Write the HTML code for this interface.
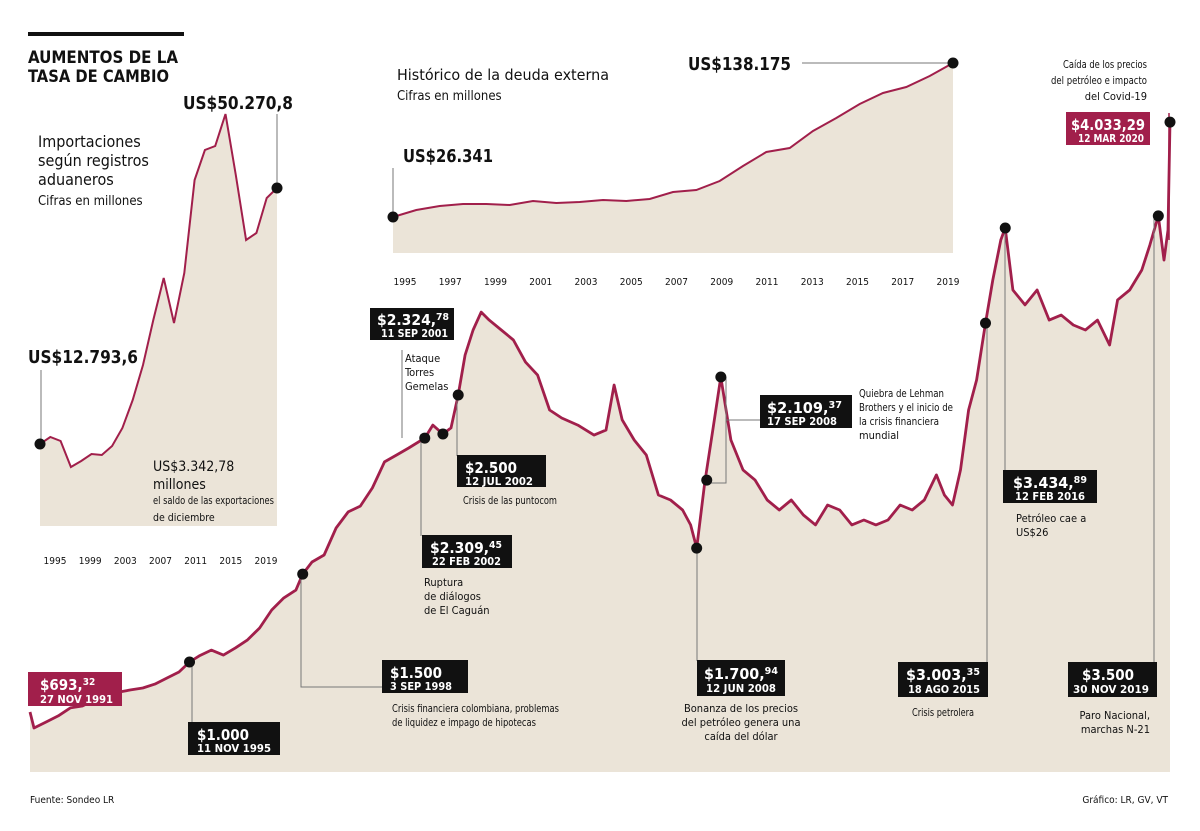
<!DOCTYPE html>
<html><head><meta charset="utf-8"><style>
html,body{margin:0;padding:0;background:#fff}
svg{display:block}
text{font-family:"DejaVu Sans Condensed","Liberation Sans",sans-serif;fill:#111}
.b{font-weight:bold}
.w{fill:#fff}
.lead{stroke:#777;stroke-width:1;fill:none}
</style></head><body>
<svg id="chart" width="1200" height="831" viewBox="0 0 1200 831">
<g id="main-layer"></g>
<g id="imp-layer"></g>
<g id="debt-layer"></g>

<rect x="28" y="32" width="156" height="4" fill="#111"/>
<text x="28" y="63" font-size="17" class="b" textLength="150" lengthAdjust="spacingAndGlyphs">AUMENTOS DE LA</text>
<text x="28" y="82" font-size="17" class="b" textLength="141" lengthAdjust="spacingAndGlyphs">TASA DE CAMBIO</text>

<text x="183" y="109" font-size="18" class="b" textLength="110" lengthAdjust="spacingAndGlyphs">US$50.270,8</text>
<line x1="277" y1="114" x2="277" y2="188" class="lead"/>
<text x="38" y="147" font-size="16">Importaciones</text>
<text x="38" y="166" font-size="16">según registros</text>
<text x="38" y="185" font-size="16">aduaneros</text>
<text x="38" y="205" font-size="13">Cifras en millones</text>
<text x="28" y="363" font-size="18" class="b" textLength="110" lengthAdjust="spacingAndGlyphs">US$12.793,6</text>
<line x1="41" y1="370" x2="41" y2="444" class="lead"/>
<text x="153" y="471" font-size="14">US$3.342,78</text>
<text x="153" y="489" font-size="14">millones</text>
<text x="153" y="504" font-size="10.5" textLength="121" lengthAdjust="spacingAndGlyphs">el saldo de las exportaciones</text>
<text x="153" y="521" font-size="10.5">de diciembre</text>

<text x="397" y="80" font-size="15" textLength="212" lengthAdjust="spacingAndGlyphs">Histórico de la deuda externa</text>
<text x="397" y="100" font-size="13">Cifras en millones</text>
<text x="403" y="162" font-size="18" class="b" textLength="90" lengthAdjust="spacingAndGlyphs">US$26.341</text>
<line x1="393" y1="168" x2="393" y2="217" class="lead"/>
<text x="688" y="70" font-size="18" class="b" textLength="103" lengthAdjust="spacingAndGlyphs">US$138.175</text>
<line x1="802" y1="63" x2="953" y2="63" class="lead"/>

<g>
<rect x="28" y="672" width="94" height="34" fill="#a11f4b"/>
<text x="40" y="690" font-size="15" class="b w">$693,<tspan font-size="10" dy="-5">32</tspan></text>
<text x="40" y="703" font-size="11" class="b w" textLength="73" lengthAdjust="spacingAndGlyphs">27 NOV 1991</text></g>
<g>
<line x1="192" y1="662" x2="192" y2="722" class="lead"/>
<rect x="188" y="722" width="92" height="33" fill="#111"/>
<text x="197" y="740" font-size="15" class="b w">$1.000</text>
<text x="197" y="752" font-size="11" class="b w" textLength="74" lengthAdjust="spacingAndGlyphs">11 NOV 1995</text></g>
<g>
<polyline points="301,574 301,687 382,687" class="lead"/>
<rect x="382" y="660" width="86" height="33" fill="#111"/>
<text x="390" y="678" font-size="15" class="b w">$1.500</text>
<text x="390" y="690" font-size="11" class="b w" textLength="62" lengthAdjust="spacingAndGlyphs">3 SEP 1998</text>
<text x="392" y="712" font-size="11" textLength="167" lengthAdjust="spacingAndGlyphs">Crisis financiera colombiana, problemas</text>
<text x="392" y="726" font-size="11" textLength="144" lengthAdjust="spacingAndGlyphs">de liquidez e impago de hipotecas</text></g>
<g>
<line x1="402" y1="350" x2="402" y2="438" class="lead"/>
<rect x="370" y="308" width="84" height="32" fill="#111"/>
<text x="377" y="325" font-size="15" class="b w" textLength="72" lengthAdjust="spacingAndGlyphs">$2.324,<tspan font-size="10" dy="-5">78</tspan></text>
<text x="381" y="337" font-size="11" class="b w" textLength="67" lengthAdjust="spacingAndGlyphs">11 SEP 2001</text>
<text x="405" y="362" font-size="11">Ataque</text>
<text x="405" y="376" font-size="11">Torres</text>
<text x="405" y="390" font-size="11">Gemelas</text></g>
<g>
<line x1="421" y1="434" x2="421" y2="536" class="lead"/>
<rect x="422" y="535" width="90" height="33" fill="#111"/>
<text x="430" y="553" font-size="15" class="b w" textLength="72" lengthAdjust="spacingAndGlyphs">$2.309,<tspan font-size="10" dy="-5">45</tspan></text>
<text x="432" y="565" font-size="11" class="b w" textLength="69" lengthAdjust="spacingAndGlyphs">22 FEB 2002</text>
<text x="424" y="586" font-size="11">Ruptura</text>
<text x="424" y="600" font-size="11">de diálogos</text>
<text x="424" y="614" font-size="11">de El Caguán</text></g>
<g>
<line x1="457" y1="395" x2="457" y2="456" class="lead"/>
<rect x="457" y="455" width="89" height="32" fill="#111"/>
<text x="465" y="473" font-size="15" class="b w">$2.500</text>
<text x="465" y="485" font-size="11" class="b w" textLength="68" lengthAdjust="spacingAndGlyphs">12 JUL 2002</text>
<text x="463" y="504" font-size="11" textLength="94" lengthAdjust="spacingAndGlyphs">Crisis de las puntocom</text></g>
<g>
<line x1="697" y1="548" x2="697" y2="661" class="lead"/>
<rect x="697" y="660" width="88" height="36" fill="#111"/>
<text x="704" y="679" font-size="15" class="b w" textLength="74" lengthAdjust="spacingAndGlyphs">$1.700,<tspan font-size="10" dy="-5">94</tspan></text>
<text x="706" y="692" font-size="11" class="b w" textLength="70" lengthAdjust="spacingAndGlyphs">12 JUN 2008</text>
<text x="741" y="712" font-size="11" text-anchor="middle">Bonanza de los precios</text>
<text x="741" y="726" font-size="11" text-anchor="middle">del petróleo genera una</text>
<text x="741" y="740" font-size="11" text-anchor="middle">caída del dólar</text></g>
<g>
<polyline points="707,483 726,483 726,420 760,420" class="lead"/>
<line x1="726" y1="377" x2="726" y2="420" class="lead"/>
<rect x="760" y="395" width="92" height="33" fill="#111"/>
<text x="767" y="413" font-size="15" class="b w" textLength="75" lengthAdjust="spacingAndGlyphs">$2.109,<tspan font-size="10" dy="-5">37</tspan></text>
<text x="767" y="425" font-size="11" class="b w" textLength="70" lengthAdjust="spacingAndGlyphs">17 SEP 2008</text>
<text x="859" y="397" font-size="11" textLength="85" lengthAdjust="spacingAndGlyphs">Quiebra de Lehman</text>
<text x="859" y="411" font-size="11" textLength="94" lengthAdjust="spacingAndGlyphs">Brothers y el inicio de</text>
<text x="859" y="425" font-size="11" textLength="80" lengthAdjust="spacingAndGlyphs">la crisis financiera</text>
<text x="859" y="439" font-size="11">mundial</text></g>
<g>
<line x1="987" y1="323" x2="987" y2="663" class="lead"/>
<rect x="898" y="662" width="90" height="35" fill="#111"/>
<text x="906" y="680" font-size="15" class="b w" textLength="74" lengthAdjust="spacingAndGlyphs">$3.003,<tspan font-size="10" dy="-5">35</tspan></text>
<text x="908" y="693" font-size="11" class="b w" textLength="72" lengthAdjust="spacingAndGlyphs">18 AGO 2015</text>
<text x="912" y="716" font-size="11" textLength="62" lengthAdjust="spacingAndGlyphs">Crisis petrolera</text></g>
<g>
<line x1="1005" y1="228" x2="1005" y2="471" class="lead"/>
<rect x="1003" y="470" width="94" height="33" fill="#111"/>
<text x="1013" y="488" font-size="15" class="b w" textLength="74" lengthAdjust="spacingAndGlyphs">$3.434,<tspan font-size="10" dy="-5">89</tspan></text>
<text x="1015" y="500" font-size="11" class="b w" textLength="70" lengthAdjust="spacingAndGlyphs">12 FEB 2016</text>
<text x="1016" y="522" font-size="11">Petróleo cae a</text>
<text x="1016" y="536" font-size="11">US$26</text></g>
<g>
<line x1="1154" y1="216" x2="1154" y2="663" class="lead"/>
<rect x="1068" y="662" width="89" height="35" fill="#111"/>
<text x="1082" y="680" font-size="15" class="b w">$3.500</text>
<text x="1073" y="693" font-size="11" class="b w" textLength="76" lengthAdjust="spacingAndGlyphs">30 NOV 2019</text>
<text x="1150" y="719" font-size="11" text-anchor="end">Paro Nacional,</text>
<text x="1150" y="733" font-size="11" text-anchor="end">marchas N-21</text></g>
<g>
<line x1="1169" y1="113" x2="1169" y2="240" stroke="#a11f4b" stroke-width="1.5"/>
<rect x="1066" y="112" width="84" height="33" fill="#a11f4b"/>
<text x="1071" y="130" font-size="15" class="b w" textLength="74" lengthAdjust="spacingAndGlyphs">$4.033,29</text>
<text x="1078" y="142" font-size="11" class="b w" textLength="66" lengthAdjust="spacingAndGlyphs">12 MAR 2020</text>
<text x="1147" y="68" font-size="11" text-anchor="end" textLength="84" lengthAdjust="spacingAndGlyphs">Caída de los precios</text>
<text x="1147" y="84" font-size="11" text-anchor="end" textLength="96" lengthAdjust="spacingAndGlyphs">del petróleo e impacto</text>
<text x="1147" y="100" font-size="11" text-anchor="end">del Covid-19</text></g>

<text x="30" y="803" font-size="10">Fuente: Sondeo LR</text>
<text x="1168" y="803" font-size="10" text-anchor="end">Gráfico: LR, GV, VT</text>
</svg>
<script>
const mainDates = [1991.9,1992.0,1992.3,1992.6,1992.9,1993.2,1993.5,1993.8,1994.1,1994.4,1994.7,1995.0,1995.3,1995.6,1995.86,1996.1,1996.4,1996.7,1997.0,1997.3,1997.6,1997.9,1998.2,1998.5,1998.67,1998.9,1999.2,1999.5,1999.8,2000.1,2000.4,2000.7,2001.0,2001.3,2001.7,2001.9,2002.15,2002.35,2002.53,2002.7,2002.9,2003.1,2003.3,2003.6,2003.9,2004.2,2004.5,2004.8,2005.1,2005.5,2005.9,2006.2,2006.4,2006.6,2006.9,2007.2,2007.5,2007.8,2008.1,2008.3,2008.45,2008.65,2008.85,2009.05,2009.3,2009.6,2009.9,2010.2,2010.5,2010.8,2011.1,2011.4,2011.7,2012.0,2012.3,2012.6,2012.9,2013.2,2013.5,2013.8,2014.1,2014.4,2014.6,2014.8,2015.0,2015.2,2015.4,2015.62,2015.8,2016.0,2016.11,2016.3,2016.6,2016.9,2017.2,2017.5,2017.8,2018.1,2018.4,2018.7,2018.9,2019.2,2019.5,2019.7,2019.91,2020.05,2020.15,2020.2];
const mainValues = [719,629,663,697,742,753,787,809,831,843,854,876,910,944,1000,1034,1067,1039,1079,1124,1191,1292,1360,1404,1494,1562,1601,1753,1843,1876,1978,2124,2163,2202,2258,2331,2281,2315,2500,2725,2865,2966,2921,2865,2809,2685,2612,2416,2371,2331,2275,2303,2556,2360,2247,2163,1938,1910,1854,1770,1640,2006,2303,2601,2247,2079,2022,1910,1854,1910,1826,1770,1882,1854,1770,1798,1770,1798,1882,1854,1910,2051,1938,1882,2079,2416,2584,2904,3146,3371,3438,3090,3006,3090,2921,2949,2893,2865,2921,2781,3034,3090,3202,3343,3506,3258,3427,4033];
const markerDates = [1995.86,1998.67,2001.7,2002.15,2002.53,2008.45,2008.7,2009.05,2015.62,2016.11,2019.91,2020.2];
const markerValues = [1000,1494,2258,2281,2500,1640,2022,2601,2904,3438,3506,4033];
const impValues = [12793,13588,13134,10180,10861,11657,11543,12566,14611,17793,21770,26884,31656,26543,32225,42793,46202,46656,50293,43361,35975,36770,40748,41884];
const impTicks = ["1995","1999","2003","2007","2011","2015","2019"];
const impTickYears = [1995,1999,2003,2007,2011,2015,2019];
const debtYears = [1995,1996,1997,1998,1999,2000,2001,2002,2003,2004,2005,2006,2007,2008,2009,2010,2011,2012,2013,2014,2015,2016,2017,2018,2019];
const debtValues = [26341,31424,34329,35782,35782,35056,37961,36508,37234,38687,37961,39413,44497,45949,52485,63378,73546,76450,88796,98237,108404,116392,120749,128738,138175];
const debtTicks = ["1995","1997","1999","2001","2003","2005","2007","2009","2011","2013","2015","2017","2019"];

const NS="http://www.w3.org/2000/svg";
const RED="#a11f4b", FILL="#ebe4d8";
function mk(tag,attrs,parent){const e=document.createElementNS(NS,tag);for(const k in attrs)e.setAttribute(k,attrs[k]);parent.appendChild(e);return e;}

const mx=d=>30+(d-1991.9)*(1140/(2020.2-1991.9));
const my=v=>840-0.178*v;
const mainG=document.getElementById('main-layer');
(function(){
  const pts=mainDates.map((d,i)=>[mx(d),my(mainValues[i])]);
  const line=pts.map((p,i)=>(i?'L':'M')+p[0].toFixed(1)+','+p[1].toFixed(1)).join('');
  const area=mk('path',{d:line+`L${pts[pts.length-1][0]},772L${pts[0][0]},772Z`,fill:FILL},mainG);
  
  
  const l=mk('path',{d:line,fill:'none',stroke:RED,'stroke-width':2.8,'stroke-linejoin':'round'},mainG);
  
  
  markerDates.forEach((d,i)=>{
    const c=mk('circle',{cx:mx(d),cy:my(markerValues[i]),r:5.5,fill:'#111'},document.getElementById('chart'));
    
    
  });
})();

(function(){
  const g=document.getElementById('imp-layer');
  const ix=i=>40+i*(237/(impValues.length-1));
  const iy=v=>444-(v-12793)*0.0088;
  const pts=impValues.map((v,i)=>[ix(i),iy(v)]);
  const line=pts.map((p,i)=>(i?'L':'M')+p[0].toFixed(1)+','+p[1].toFixed(1)).join('');
  const a=mk('path',{d:line+`L${pts[pts.length-1][0]},526L40,526Z`,fill:FILL},g);
  
  
  const l=mk('path',{d:line,fill:'none',stroke:RED,'stroke-width':2},g);
  
  
  [[0,impValues[0]],[impValues.length-1,impValues[impValues.length-1]]].forEach(p=>{
    const c=mk('circle',{cx:ix(p[0]),cy:iy(p[1]),r:5.5,fill:'#111'},document.getElementById('chart'));
    
    
  });
  const tx=y=>55+(y-1995)*(211/24);
  impTicks.forEach((t,i)=>{
    const e=mk('text',{x:tx(impTickYears[i]),y:564,'font-size':10,'text-anchor':'middle'},g);
    e.textContent=t;
    
    
  });
})();

(function(){
  const g=document.getElementById('debt-layer');
  const dx=y=>393+(y-1995)*(560/24);
  const dy=v=>217-(v-26341)*0.001377;
  const pts=debtYears.map((y,i)=>[dx(y),dy(debtValues[i])]);
  const line=pts.map((p,i)=>(i?'L':'M')+p[0].toFixed(1)+','+p[1].toFixed(1)).join('');
  const a=mk('path',{d:line+`L${pts[pts.length-1][0]},253L393,253Z`,fill:FILL},g);
  
  
  const l=mk('path',{d:line,fill:'none',stroke:RED,'stroke-width':2},g);
  
  
  [0,debtValues.length-1].forEach(i=>{
    const c=mk('circle',{cx:dx(debtYears[i]),cy:dy(debtValues[i]),r:5.5,fill:'#111'},document.getElementById('chart'));
    
    
  });
  const tx=y=>405+(y-1995)*(543/24);
  debtTicks.forEach(t=>{
    const e=mk('text',{x:tx(+t),y:285,'font-size':10,'text-anchor':'middle'},g);
    e.textContent=t;
    
    
  });
})();
</script>
</body></html>
